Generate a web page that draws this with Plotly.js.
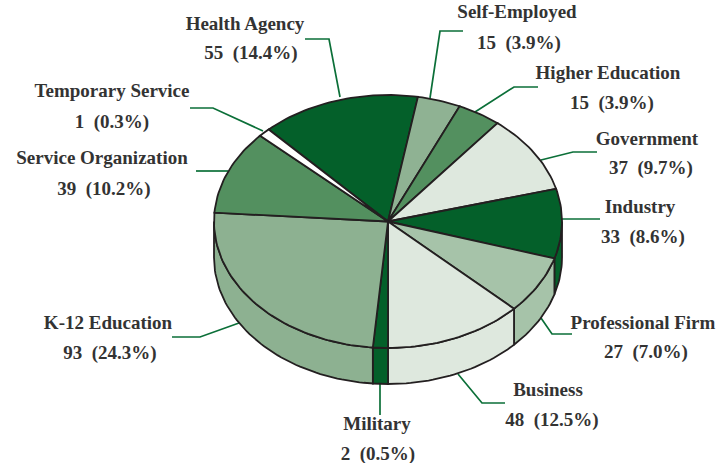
<!DOCTYPE html>
<html>
<head>
<meta charset="utf-8">
<script src="https://cdn.plot.ly/plotly-3.0.1.min.js"></script>
<style>html,body{margin:0;padding:0;background:#fff}#chart{width:728px;height:463px}</style>
</head>
<body>
<div id="chart"></div>
<script>
// ---- data ----
const categories = ["Health Agency","Self-Employed","Higher Education","Government","Industry","Professional Firm","Business","Military","K-12 Education","Service Organization","Temporary Service"];
const counts = [55,15,15,37,33,27,48,2,93,39,1];
const percents = ["14.4%","3.9%","3.9%","9.7%","8.6%","7.0%","12.5%","0.5%","24.3%","10.2%","0.3%"];
// the wedge sizes as actually drawn in the picture (degrees); small slices are drawn wider than their count
const wedgeDegrees = [53.2,14.4,14.7,36,32,26.6,46.4,5,89,38.7,4];
const sliceColors = ["#04602a","#8fb293","#53905f","#dee8de","#04602a","#a6c3a9","#dee8de","#04602a","#8db191","#53905f","#ffffff"];

// ---- layout of the drawing ----
const CX = 388, CY = 221.5, RX = 174, RY = 126.5, DEPTH = 36, START = -43.3;
const OUTLINE = "#231f20", LEADER = "#0b6f38", TEXT = "#333333";
const nameAnchor = [[245,25.5],[517,13.5],[608,74.5],[647,140.5],[640,208.5],[643,324.5],[548,391.5],[377,425.5],[108,324.5],[102,159.5],[112,92.5]];
const valueAnchor = [[251,54.5],[519,44.5],[612,104.5],[651,169.5],[643,238.5],[646,353.5],[552,421.5],[378,455.5],[110,354.5],[104,190.5],[112,123.5]];
const leaders = [
  [[305,39],[329,39],[340,97]],
  [[463,31],[440,31],[430,98]],
  [[475,112],[514,87],[538,87]],
  [[541,160],[573,152],[597,152]],
  [[562,219],[600,219]],
  [[541,318],[552,334],[572,334]],
  [[458,374],[482,403],[505,403]],
  [[380,384],[380,415]],
  [[239,323],[200,337],[172,337]],
  [[196,171],[228,171]],
  [[190,108],[213,108],[263,131]]
];

// ---- build traces ----
const rad = d => d * Math.PI / 180;
const px = a => CX + RX * Math.sin(rad(a));
const py = (a, dz) => CY - RY * Math.cos(rad(a)) + (dz || 0);
const arc = (a0, a1, dz) => {
  const n = Math.max(2, Math.ceil(Math.abs(a1 - a0) / 1.5));
  const xs = [], ys = [];
  for (let i = 0; i <= n; i++) { const a = a0 + (a1 - a0) * i / n; xs.push(px(a)); ys.push(py(a, dz)); }
  return [xs, ys];
};
const total = wedgeDegrees.reduce((s, v) => s + v, 0);
const traces = [];

// leader lines
leaders.forEach(pts => traces.push({
  type: "scatter", mode: "lines", x: pts.map(p => p[0]), y: pts.map(p => p[1]),
  line: {color: LEADER, width: 1.7}, hoverinfo: "skip", showlegend: false
}));

const spans = [];
let cursor = START;
wedgeDegrees.forEach(w => { const d = w / total * 360; spans.push([cursor, cursor + d]); cursor += d; });

// side wall (only the front half of the rim, from 90 to 270 degrees)
spans.forEach((sp, i) => {
  const a0 = Math.max(sp[0], 90), a1 = Math.min(sp[1], 270);
  if (a1 <= a0) return;
  const top = arc(a0, a1, 0), bot = arc(a1, a0, DEPTH);
  traces.push({
    type: "scatter", mode: "lines", fill: "toself", fillcolor: sliceColors[i],
    x: top[0].concat(bot[0], [top[0][0]]), y: top[1].concat(bot[1], [top[1][0]]),
    line: {color: OUTLINE, width: 1.8}, name: categories[i], hoverinfo: "name", showlegend: false
  });
});

// top face
spans.forEach((sp, i) => {
  const a = arc(sp[0], sp[1], 0);
  traces.push({
    type: "scatter", mode: "lines", fill: "toself", fillcolor: sliceColors[i],
    x: [CX].concat(a[0], [CX]), y: [CY].concat(a[1], [CY]),
    line: {color: OUTLINE, width: 1.8}, name: categories[i],
    text: counts[i] + " (" + percents[i] + ")", hoverinfo: "name+text", hoveron: "fills", showlegend: false
  });
});

// labels
const font = {family: "'Liberation Serif', serif", size: 19, color: TEXT, weight: 700};
traces.push({
  type: "scatter", mode: "text", x: nameAnchor.map(p => p[0]), y: nameAnchor.map(p => p[1]),
  text: categories, textposition: "middle center", textfont: font, hoverinfo: "skip", showlegend: false
});
traces.push({
  type: "scatter", mode: "text", x: valueAnchor.map(p => p[0]), y: valueAnchor.map(p => p[1]),
  text: counts.map((c, i) => c + "\u00a0\u00a0(" + percents[i] + ")"),
  textposition: "middle center", textfont: font, hoverinfo: "skip", showlegend: false
});

Plotly.newPlot("chart", traces, {
  width: 728, height: 463, margin: {l: 0, r: 0, t: 0, b: 0},
  paper_bgcolor: "#ffffff", plot_bgcolor: "#ffffff", showlegend: false,
  xaxis: {range: [0, 728], visible: false, fixedrange: true},
  yaxis: {range: [463, 0], visible: false, fixedrange: true}
}, {displayModeBar: false});
</script>
</body>
</html>
